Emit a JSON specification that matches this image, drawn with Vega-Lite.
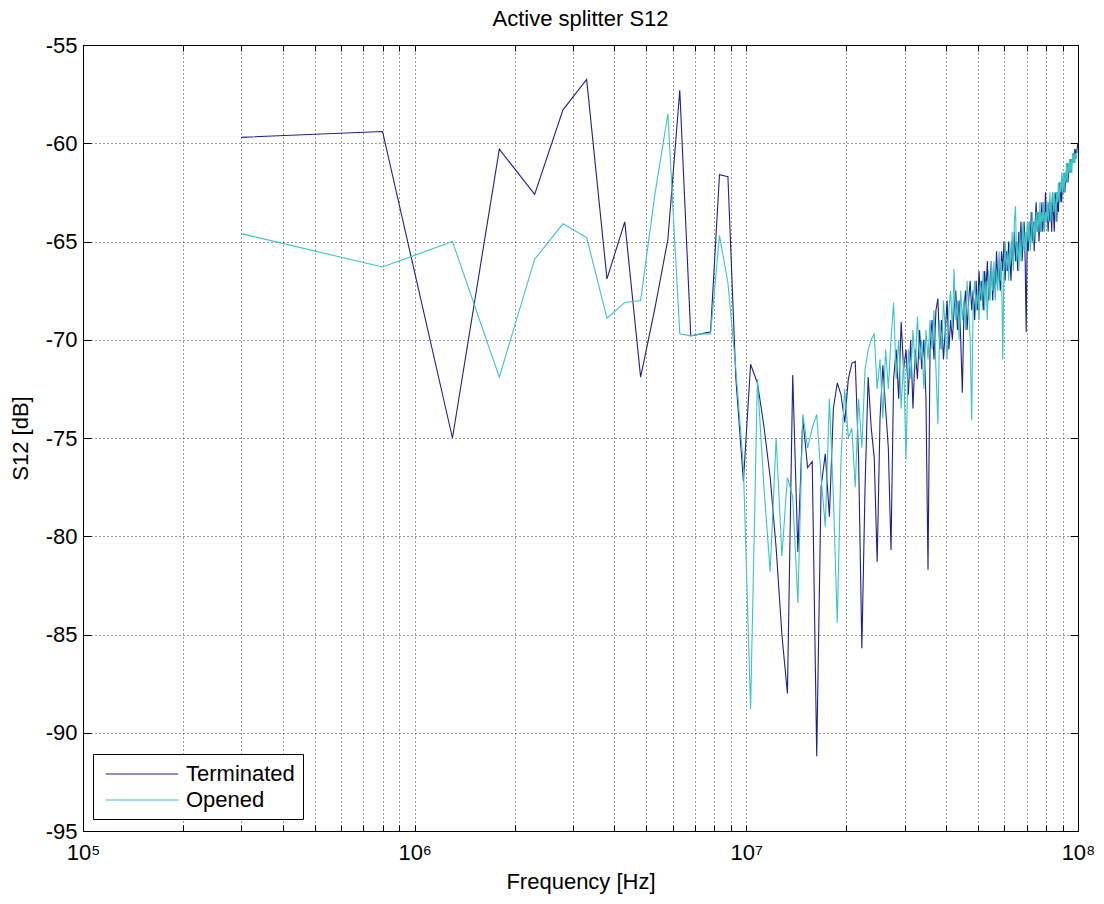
{
"$schema": "https://vega.github.io/schema/vega-lite/v6.json",
"width": 995, "height": 786,
"autosize": {"type": "none"},
"padding": {"left": 83, "top": 45, "right": 26, "bottom": 73},
"background": "white",
"title": {"text": "Active splitter S12", "fontSize": 22, "font": "Liberation Sans", "fontWeight": "normal", "color": "black", "offset": 3, "anchor": "middle"},
"config": {"view": {"stroke": "black", "strokeWidth": 1}, "font": "Liberation Sans"},
"data": {"values": [
{"f":300000,"T":-59.7,"O":-64.6},
{"f":800000,"T":-59.4,"O":-66.3},
{"f":1300000,"T":-75.0,"O":-65.0},
{"f":1800000,"T":-60.3,"O":-71.9},
{"f":2300000,"T":-62.6,"O":-65.9},
{"f":2800000,"T":-58.3,"O":-64.1},
{"f":3300000,"T":-56.75,"O":-64.8},
{"f":3800000,"T":-66.9,"O":-68.9},
{"f":4300000,"T":-64.0,"O":-68.1},
{"f":4800000,"T":-71.9,"O":-68.0},
{"f":5300000,"T":-68.4,"O":-62.6},
{"f":5800000,"T":-64.9,"O":-58.5},
{"f":6300000,"T":-57.3,"O":-69.7},
{"f":6800000,"T":-69.8,"O":-69.8},
{"f":7300000,"T":-69.7,"O":-69.7},
{"f":7800000,"T":-69.6,"O":-69.7},
{"f":8300000,"T":-61.6,"O":-64.7},
{"f":8800000,"T":-61.7,"O":-67.1},
{"f":9300000,"T":-72.0,"O":-71.5},
{"f":9800000,"T":-77.2,"O":-76.5},
{"f":10300000,"T":-71.25,"O":-88.8},
{"f":10800000,"T":-72.2,"O":-72.0},
{"f":11300000,"T":-74.4,"O":-77.5},
{"f":11800000,"T":-77.0,"O":-81.8},
{"f":12300000,"T":-80.6,"O":-75.0},
{"f":12800000,"T":-85.0,"O":-81.0},
{"f":13300000,"T":-88.0,"O":-77.0},
{"f":13800000,"T":-71.8,"O":-78.0},
{"f":14300000,"T":-80.8,"O":-83.4},
{"f":14800000,"T":-74.0,"O":-73.8},
{"f":15300000,"T":-76.5,"O":-75.5},
{"f":15800000,"T":-76.2,"O":-74.5},
{"f":16300000,"T":-91.2,"O":-73.8},
{"f":16800000,"T":-77.5,"O":-77.0},
{"f":17300000,"T":-75.8,"O":-79.5},
{"f":17800000,"T":-79.0,"O":-73.0},
{"f":18300000,"T":-73.5,"O":-78.0},
{"f":18800000,"T":-72.2,"O":-84.4},
{"f":19300000,"T":-72.8,"O":-76.0},
{"f":19800000,"T":-74.2,"O":-72.5},
{"f":20300000,"T":-72.0,"O":-75.0},
{"f":20800000,"T":-71.2,"O":-74.5},
{"f":21300000,"T":-71.1,"O":-77.5},
{"f":21800000,"T":-76.0,"O":-73.0},
{"f":22300000,"T":-85.7,"O":-75.5},
{"f":22800000,"T":-77.5,"O":-71.5},
{"f":23300000,"T":-71.9,"O":-70.5},
{"f":23800000,"T":-74.5,"O":-70.0},
{"f":24300000,"T":-76.0,"O":-69.7},
{"f":24800000,"T":-81.3,"O":-72.5},
{"f":25300000,"T":-74.0,"O":-71.0},
{"f":25800000,"T":-71.3,"O":-74.0},
{"f":26300000,"T":-73.5,"O":-70.5},
{"f":26800000,"T":-75.5,"O":-72.5},
{"f":27300000,"T":-80.7,"O":-70.0},
{"f":27800000,"T":-72.0,"O":-68.1},
{"f":28300000,"T":-70.5,"O":-72.0},
{"f":28800000,"T":-73.0,"O":-70.0},
{"f":29300000,"T":-69.1,"O":-73.5},
{"f":29800000,"T":-71.5,"O":-71.0},
{"f":30300000,"T":-70.5,"O":-76.1},
{"f":30800000,"T":-72.8,"O":-70.5},
{"f":31300000,"T":-70.0,"O":-72.0},
{"f":31800000,"T":-73.5,"O":-69.5},
{"f":32300000,"T":-70.5,"O":-71.5},
{"f":32800000,"T":-72.0,"O":-68.8},
{"f":33300000,"T":-69.5,"O":-71.0},
{"f":33800000,"T":-71.5,"O":-70.0},
{"f":34300000,"T":-70.0,"O":-72.5},
{"f":34800000,"T":-73.0,"O":-69.5},
{"f":35300000,"T":-81.7,"O":-71.0},
{"f":35800000,"T":-70.5,"O":-69.0},
{"f":36300000,"T":-69.0,"O":-70.5},
{"f":36800000,"T":-71.0,"O":-68.5},
{"f":37300000,"T":-68.5,"O":-71.5},
{"f":37800000,"T":-67.9,"O":-74.3},
{"f":38300000,"T":-70.5,"O":-69.0},
{"f":38800000,"T":-69.0,"O":-70.5},
{"f":39300000,"T":-71.0,"O":-68.0},
{"f":39800000,"T":-69.5,"O":-69.5},
{"f":40300000,"T":-68.0,"O":-71.0},
{"f":40800000,"T":-70.5,"O":-68.5},
{"f":41300000,"T":-69.0,"O":-67.5},
{"f":41800000,"T":-70.0,"O":-69.5},
{"f":42300000,"T":-68.5,"O":-66.4},
{"f":42800000,"T":-67.5,"O":-69.0},
{"f":43300000,"T":-69.5,"O":-68.0},
{"f":43800000,"T":-68.0,"O":-70.0},
{"f":44300000,"T":-70.0,"O":-67.5},
{"f":44800000,"T":-72.7,"O":-69.0},
{"f":45300000,"T":-68.5,"O":-68.0},
{"f":45800000,"T":-67.5,"O":-69.5},
{"f":46300000,"T":-69.5,"O":-67.0},
{"f":46800000,"T":-68.0,"O":-68.5},
{"f":47300000,"T":-67.0,"O":-70.0},
{"f":47800000,"T":-68.5,"O":-74.1},
{"f":48300000,"T":-67.5,"O":-68.0},
{"f":48800000,"T":-69.0,"O":-67.0},
{"f":49300000,"T":-67.0,"O":-68.5},
{"f":49800000,"T":-68.5,"O":-67.5},
{"f":50300000,"T":-66.5,"O":-69.0},
{"f":50800000,"T":-68.0,"O":-67.0},
{"f":51300000,"T":-67.0,"O":-68.0},
{"f":51800000,"T":-68.5,"O":-66.5},
{"f":52300000,"T":-66.5,"O":-68.5},
{"f":52800000,"T":-67.5,"O":-67.0},
{"f":53300000,"T":-66.0,"O":-69.0},
{"f":53800000,"T":-68.0,"O":-66.5},
{"f":54300000,"T":-67.0,"O":-68.0},
{"f":54800000,"T":-66.0,"O":-66.0},
{"f":55300000,"T":-68.0,"O":-67.5},
{"f":55800000,"T":-66.5,"O":-66.0},
{"f":56300000,"T":-67.5,"O":-68.0},
{"f":56800000,"T":-65.5,"O":-66.5},
{"f":57300000,"T":-67.0,"O":-67.5},
{"f":57800000,"T":-66.0,"O":-65.5},
{"f":58300000,"T":-67.5,"O":-67.0},
{"f":58800000,"T":-65.5,"O":-66.0},
{"f":59300000,"T":-66.5,"O":-71.0},
{"f":59800000,"T":-65.0,"O":-66.5},
{"f":60300000,"T":-67.0,"O":-65.0},
{"f":60800000,"T":-65.5,"O":-66.5},
{"f":61300000,"T":-66.5,"O":-65.5},
{"f":61800000,"T":-65.0,"O":-67.0},
{"f":62300000,"T":-66.0,"O":-65.0},
{"f":62800000,"T":-67.0,"O":-66.0},
{"f":63300000,"T":-65.0,"O":-64.5},
{"f":63800000,"T":-66.0,"O":-66.5},
{"f":64300000,"T":-64.5,"O":-64.0},
{"f":64800000,"T":-66.0,"O":-63.2},
{"f":65300000,"T":-65.0,"O":-66.0},
{"f":65800000,"T":-66.5,"O":-65.0},
{"f":66300000,"T":-64.5,"O":-66.5},
{"f":66800000,"T":-65.5,"O":-64.5},
{"f":67300000,"T":-64.0,"O":-66.0},
{"f":67800000,"T":-66.0,"O":-65.0},
{"f":68300000,"T":-65.0,"O":-64.0},
{"f":68800000,"T":-64.0,"O":-65.5},
{"f":69300000,"T":-66.0,"O":-64.5},
{"f":69800000,"T":-69.6,"O":-65.5},
{"f":70300000,"T":-64.5,"O":-64.0},
{"f":70800000,"T":-65.5,"O":-65.0},
{"f":71300000,"T":-64.0,"O":-64.0},
{"f":71800000,"T":-65.0,"O":-65.5},
{"f":72300000,"T":-63.5,"O":-64.5},
{"f":72800000,"T":-65.0,"O":-63.5},
{"f":73300000,"T":-64.0,"O":-65.0},
{"f":73800000,"T":-65.5,"O":-64.0},
{"f":74300000,"T":-64.0,"O":-65.0},
{"f":74800000,"T":-63.0,"O":-63.5},
{"f":75300000,"T":-64.5,"O":-64.5},
{"f":75800000,"T":-63.5,"O":-63.5},
{"f":76300000,"T":-65.0,"O":-64.5},
{"f":76800000,"T":-63.5,"O":-63.0},
{"f":77300000,"T":-64.5,"O":-64.5},
{"f":77800000,"T":-63.0,"O":-63.5},
{"f":78300000,"T":-64.5,"O":-64.0},
{"f":78800000,"T":-63.5,"O":-63.0},
{"f":79300000,"T":-64.0,"O":-64.5},
{"f":79800000,"T":-62.5,"O":-63.5},
{"f":80300000,"T":-64.0,"O":-64.0},
{"f":80800000,"T":-63.5,"O":-63.0},
{"f":81300000,"T":-64.5,"O":-64.0},
{"f":81800000,"T":-63.0,"O":-63.5},
{"f":82300000,"T":-64.0,"O":-62.5},
{"f":82800000,"T":-63.0,"O":-64.0},
{"f":83300000,"T":-64.5,"O":-63.0},
{"f":83800000,"T":-62.5,"O":-62.5},
{"f":84300000,"T":-63.5,"O":-63.5},
{"f":84800000,"T":-64.5,"O":-62.5},
{"f":85300000,"T":-63.0,"O":-63.0},
{"f":85800000,"T":-62.5,"O":-64.0},
{"f":86300000,"T":-64.0,"O":-62.5},
{"f":86800000,"T":-62.5,"O":-63.0},
{"f":87300000,"T":-63.5,"O":-62.0},
{"f":87800000,"T":-62.0,"O":-63.0},
{"f":88300000,"T":-63.0,"O":-62.0},
{"f":88800000,"T":-62.0,"O":-62.5},
{"f":89300000,"T":-63.0,"O":-61.5},
{"f":89800000,"T":-62.0,"O":-62.5},
{"f":90300000,"T":-62.5,"O":-61.5},
{"f":90800000,"T":-61.5,"O":-62.5},
{"f":91300000,"T":-62.5,"O":-61.5},
{"f":91800000,"T":-61.5,"O":-62.0},
{"f":92300000,"T":-62.0,"O":-61.0},
{"f":92800000,"T":-61.0,"O":-62.0},
{"f":93300000,"T":-62.0,"O":-61.0},
{"f":93800000,"T":-61.0,"O":-61.5},
{"f":94300000,"T":-61.5,"O":-60.8},
{"f":94800000,"T":-60.8,"O":-61.5},
{"f":95300000,"T":-61.5,"O":-60.8},
{"f":95800000,"T":-60.8,"O":-61.5},
{"f":96300000,"T":-61.0,"O":-60.5},
{"f":96800000,"T":-60.5,"O":-61.0},
{"f":97300000,"T":-61.0,"O":-60.5},
{"f":97800000,"T":-60.3,"O":-61.0},
{"f":98300000,"T":-60.8,"O":-60.5},
{"f":98800000,"T":-60.3,"O":-60.8},
{"f":99300000,"T":-60.5,"O":-60.3},
{"f":99800000,"T":-60.0,"O":-60.4}
]},
"transform": [{"fold": ["T", "O"], "as": ["series", "value"]}],
"layer": [
{
"mark": {"type": "line", "strokeWidth": 1.1},
"encoding": {
"x": {"field": "f", "type": "quantitative",
"scale": {"type": "log", "domain": [100000, 100000000], "nice": false},
"axis": {"orient": "bottom", "values": [100000,200000,300000,400000,500000,600000,700000,800000,900000,1000000,2000000,3000000,4000000,5000000,6000000,7000000,8000000,9000000,10000000,20000000,30000000,40000000,50000000,60000000,70000000,80000000,90000000,100000000],
"labelExpr": "datum.value == 100000 ? '10⁵' : datum.value == 1000000 ? '10⁶' : datum.value == 10000000 ? '10⁷' : datum.value == 100000000 ? '10⁸' : ''",
"grid": true, "gridDash": [1, 3], "gridColor": "#333333", "gridOpacity": 1,
"tickSize": -6, "tickColor": "black", "domainColor": "black",
"labelFontSize": 22, "labelColor": "black", "labelPadding": 17, "labelDx": 4, "labelFlush": false, "labelOverlap": false, "labelBound": false,
"title": "Frequency [Hz]", "titleFontSize": 22, "titleFontWeight": "normal", "titleColor": "black", "titlePadding": 8}},
"y": {"field": "value", "type": "quantitative",
"scale": {"domain": [-95, -55], "nice": false, "zero": false},
"axis": {"orient": "left", "values": [-95,-90,-85,-80,-75,-70,-65,-60,-55],
"labelExpr": "'' + datum.value",
"grid": true, "gridDash": [1, 3], "gridColor": "#333333", "gridOpacity": 1,
"tickSize": -8, "tickColor": "black", "domainColor": "black",
"labelFontSize": 22, "labelColor": "black", "labelPadding": 14, "labelFlush": false, "labelOverlap": false, "labelBound": false,
"title": "S12 [dB]", "titleFontSize": 22, "titleFontWeight": "normal", "titleColor": "black", "titlePadding": 13}},
"color": {"field": "series", "type": "nominal",
"scale": {"domain": ["T", "O"], "range": ["#20208a", "#3cc4c4"]},
"legend": {"orient": "none", "legendX": 10, "legendY": 709, "title": null,
"labelExpr": "datum.label == 'T' ? 'Terminated' : 'Opened'",
"strokeColor": "black", "fillColor": "white", "padding": 8, "cornerRadius": 0,
"labelFontSize": 22, "labelColor": "black", "labelLimit": 300,
"symbolType": "M-3.3,0L3.3,0", "symbolSize": 484, "symbolStrokeWidth": 1.2,
"symbolOffset": 29, "labelOffset": 32, "rowPadding": 3}}
}
},
{
"mark": {"type": "line", "opacity": 0},
"encoding": {
"x": {"field": "f", "type": "quantitative",
"axis": {"orient": "top", "values": [100000,200000,300000,400000,500000,600000,700000,800000,900000,1000000,2000000,3000000,4000000,5000000,6000000,7000000,8000000,9000000,10000000,20000000,30000000,40000000,50000000,60000000,70000000,80000000,90000000,100000000],
"labels": false, "grid": false, "title": null, "tickSize": -6, "tickColor": "black", "domainColor": "black"}},
"y": {"field": "value", "type": "quantitative",
"axis": {"orient": "right", "values": [-95,-90,-85,-80,-75,-70,-65,-60,-55],
"labels": false, "grid": false, "title": null, "tickSize": -8, "tickColor": "black", "domainColor": "black"}}
}
}
],
"resolve": {"axis": {"x": "independent", "y": "independent"}}
}
